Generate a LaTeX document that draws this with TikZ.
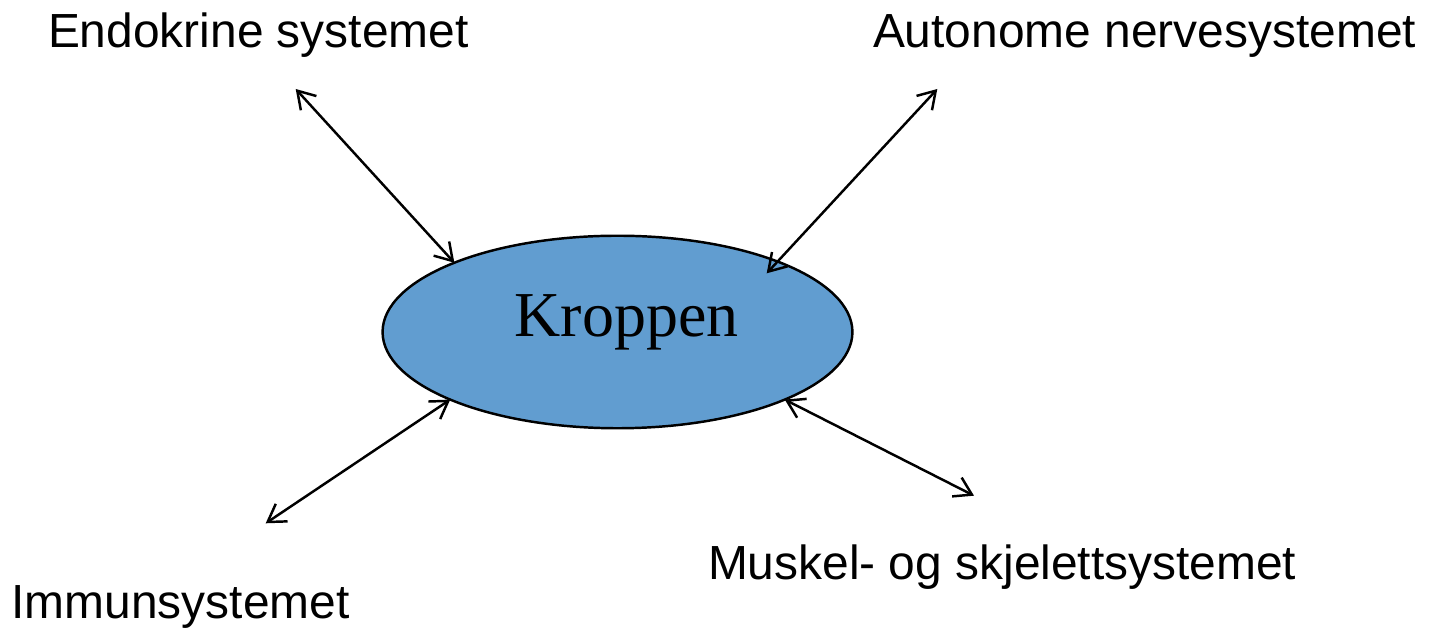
\documentclass[tikz,border=0pt]{standalone}
\usepackage{fontspec}
\setmainfont{Liberation Sans}
\newfontfamily\serifkr{Liberation Serif}
\usetikzlibrary{arrows.meta,shapes.geometric}
\definecolor{bodyblue}{RGB}{97,157,208}
\tikzset{
  lbl/.style={anchor=base west,inner sep=0pt,outer sep=0pt,font=\fontsize{13.62}{16}\selectfont},
  biarrow/.style={line width=0.7pt,{Straight Barb[length=4.8pt,width=6pt]}-{Straight Barb[length=4.8pt,width=6pt]}},
  bodyshape/.style={ellipse,draw=black,line width=0.7pt,fill=bodyblue,minimum width=4.696cm,minimum height=1.924cm,inner sep=0pt,outer sep=0pt}
}
\begin{document}
\begin{tikzpicture}[x=0.01cm,y=-0.01cm]
\useasboundingbox (0,0) rectangle (1430,631);
\node[bodyshape] (body) at (617.5,332) {};
\node[anchor=base west,inner sep=0pt,font=\serifkr\fontsize{18.2}{22}\selectfont] (kropp) at (514,336.7) {Kroppen};
\node[lbl] (endo) at (48,47.5) {Endokrine systemet};
\node[lbl] (auto) at (873,47.5) {Autonome nervesystemet};
\node[lbl] (musk) at (708,580) {Muskel- og skjelettsystemet};
\node[lbl] (immu) at (11.5,618.3) {Immunsystemet};
\coordinate (pEndo) at (295.7,89);
\coordinate (pAuto) at (937.3,89);
\coordinate (pImmu) at (265.7,523.3);
\coordinate (pMusk) at (974,495.7);
\coordinate (inAuto) at (766.7,273.3);
\draw[biarrow] (pEndo) -- (body.157.6);
\draw[biarrow] (pAuto) -- (inAuto);
\draw[biarrow] (pImmu) -- (body.202.3);
\draw[biarrow] (pMusk) -- (body.338.1);
\end{tikzpicture}
\end{document}
